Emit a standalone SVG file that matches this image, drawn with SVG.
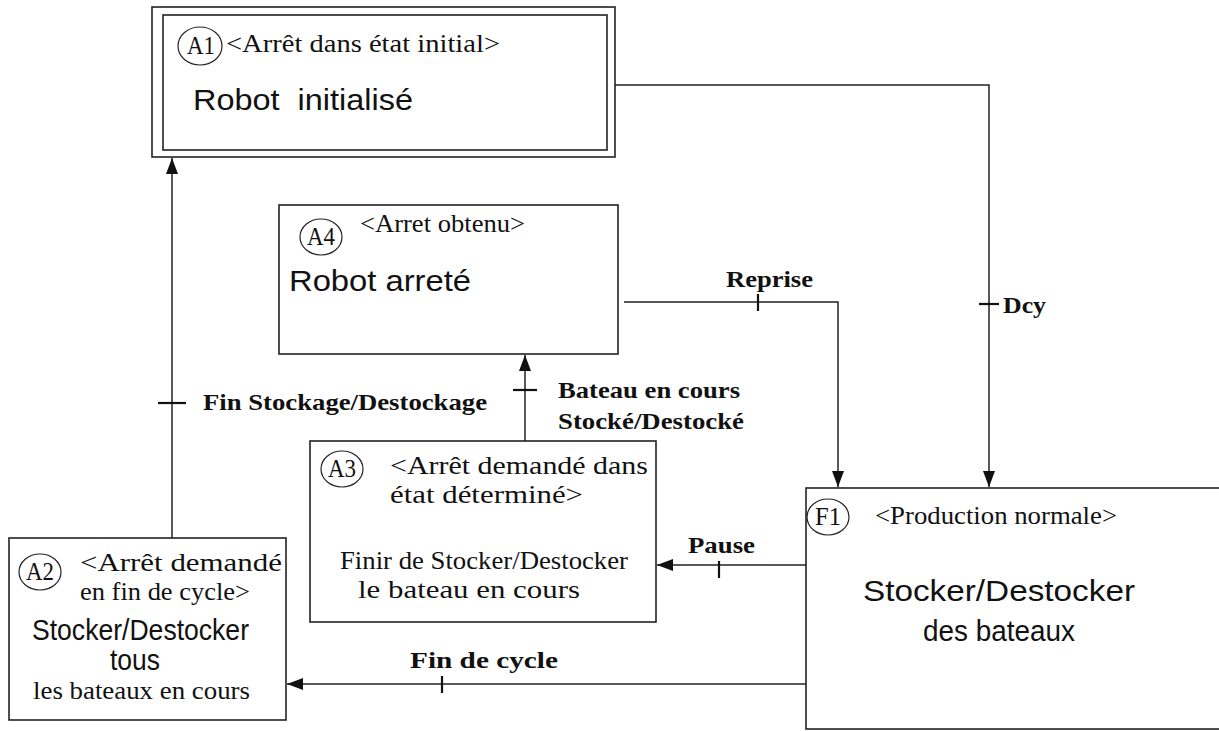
<svg xmlns="http://www.w3.org/2000/svg" width="1219" height="731" viewBox="0 0 1219 731">
  <style>
    .box { fill: #fff; stroke: #222; stroke-width: 1.6; }
    .tag { fill: none; stroke: #222; stroke-width: 1.2; }
    .wire { fill: none; stroke: #222; stroke-width: 1.5; }
    .tick { stroke: #111; stroke-width: 2.2; }
    .ser { font-family: "Liberation Serif", "Times New Roman", serif; font-size: 25px; fill: #111; }
    .sans { font-family: "Liberation Sans", Arial, sans-serif; font-size: 30px; fill: #111; }
    .lbl { font-family: "Liberation Serif", "Times New Roman", serif; font-weight: bold; font-size: 24px; fill: #111; }
  </style>
  <defs>
    <marker id="head" viewBox="0 0 16 12" refX="16" refY="6" markerWidth="16" markerHeight="12" markerUnits="userSpaceOnUse" orient="auto">
      <path d="M0,0 L16,6 L0,12 Z" fill="#111"/>
    </marker>
  </defs>

  <rect width="1219" height="731" fill="#fff"/>

  <!-- A1: initial stop -->
  <g id="A1">
    <rect class="box" x="152" y="7" width="463" height="150"/>
    <rect class="box" x="163" y="15" width="444" height="135"/>
    <ellipse class="tag" cx="200" cy="46" rx="22" ry="19"/>
    <text class="ser" x="201" y="54" font-size="23" text-anchor="middle" textLength="28" lengthAdjust="spacingAndGlyphs">A1</text>
    <text class="ser" x="226" y="52" textLength="274" lengthAdjust="spacingAndGlyphs">&lt;Arrêt dans état initial&gt;</text>
    <text class="sans" x="193" y="110" xml:space="preserve" textLength="220" lengthAdjust="spacingAndGlyphs">Robot  initialisé</text>
  </g>

  <!-- A4: stop reached -->
  <g id="A4">
    <rect class="box" x="279" y="205" width="339" height="149"/>
    <ellipse class="tag" cx="321" cy="237" rx="21" ry="18"/>
    <text class="ser" x="321" y="245" font-size="23" text-anchor="middle" textLength="28" lengthAdjust="spacingAndGlyphs">A4</text>
    <text class="ser" x="360" y="232" textLength="165" lengthAdjust="spacingAndGlyphs">&lt;Arret obtenu&gt;</text>
    <text class="sans" x="289" y="291" textLength="182" lengthAdjust="spacingAndGlyphs">Robot arreté</text>
  </g>

  <!-- A3: stop requested in a given state -->
  <g id="A3">
    <rect class="box" x="310" y="441" width="346" height="181"/>
    <ellipse class="tag" cx="342" cy="469" rx="21" ry="18"/>
    <text class="ser" x="342" y="477" font-size="23" text-anchor="middle" textLength="28" lengthAdjust="spacingAndGlyphs">A3</text>
    <text class="ser" x="390" y="474" textLength="258" lengthAdjust="spacingAndGlyphs">&lt;Arrêt demandé dans</text>
    <text class="ser" x="390" y="503" textLength="193" lengthAdjust="spacingAndGlyphs">état déterminé&gt;</text>
    <text class="ser" x="340" y="569" textLength="288" lengthAdjust="spacingAndGlyphs">Finir de Stocker/Destocker</text>
    <text class="ser" x="358" y="598" textLength="222" lengthAdjust="spacingAndGlyphs">le bateau en cours</text>
  </g>

  <!-- A2: stop requested at end of cycle -->
  <g id="A2">
    <rect class="box" x="9" y="538" width="277" height="182"/>
    <ellipse class="tag" cx="40" cy="572" rx="21" ry="18"/>
    <text class="ser" x="40" y="580" font-size="23" text-anchor="middle" textLength="28" lengthAdjust="spacingAndGlyphs">A2</text>
    <text class="ser" x="80" y="571" textLength="202" lengthAdjust="spacingAndGlyphs">&lt;Arrêt demandé</text>
    <text class="ser" x="80" y="600" textLength="170" lengthAdjust="spacingAndGlyphs">en fin de cycle&gt;</text>
    <text class="sans" x="32" y="640" font-size="22" textLength="217" lengthAdjust="spacingAndGlyphs">Stocker/Destocker</text>
    <text class="sans" x="110" y="670" font-size="22" textLength="50" lengthAdjust="spacingAndGlyphs">tous</text>
    <text class="ser" x="33" y="699" font-size="23" textLength="217" lengthAdjust="spacingAndGlyphs">les bateaux en cours</text>
  </g>

  <!-- F1: normal production -->
  <g id="F1">
    <rect class="box" x="806" y="488" width="420" height="241" stroke-width="2.6"/>
    <ellipse class="tag" cx="828" cy="517" rx="21" ry="18"/>
    <text class="ser" x="828" y="525" font-size="23" text-anchor="middle" textLength="26" lengthAdjust="spacingAndGlyphs">F1</text>
    <text class="ser" x="875" y="524" textLength="242" lengthAdjust="spacingAndGlyphs">&lt;Production normale&gt;</text>
    <text class="sans" x="863" y="601" textLength="272" lengthAdjust="spacingAndGlyphs">Stocker/Destocker</text>
    <text class="sans" x="923" y="641" textLength="152" lengthAdjust="spacingAndGlyphs">des bateaux</text>
  </g>

  <!-- transitions -->
  <g id="connectors">
    <!-- Dcy: A1 to F1 -->
    <path class="wire" d="M615,85 H989 V487" marker-end="url(#head)"/>
    <line class="tick" x1="979" y1="304" x2="999" y2="304"/>
    <text class="lbl" x="1003" y="313" textLength="43" lengthAdjust="spacingAndGlyphs">Dcy</text>

    <!-- Reprise: A4 to F1 -->
    <path class="wire" d="M624,302 H838 V487" marker-end="url(#head)"/>
    <line class="tick" x1="758" y1="294" x2="758" y2="311"/>
    <text class="lbl" x="726" y="287" textLength="87" lengthAdjust="spacingAndGlyphs">Reprise</text>

    <!-- A3 to A4 -->
    <path class="wire" d="M525,441 V355" marker-end="url(#head)"/>
    <line class="tick" x1="513" y1="390" x2="537" y2="390"/>
    <text class="lbl" x="558" y="398" textLength="182" lengthAdjust="spacingAndGlyphs">Bateau en cours</text>
    <text class="lbl" x="558" y="429" textLength="186" lengthAdjust="spacingAndGlyphs">Stocké/Destocké</text>

    <!-- A2 to A1 -->
    <path class="wire" d="M172,538 V158" marker-end="url(#head)"/>
    <line class="tick" x1="158" y1="403" x2="186" y2="403"/>
    <text class="lbl" x="203" y="410" textLength="284" lengthAdjust="spacingAndGlyphs">Fin Stockage/Destockage</text>

    <!-- Pause: F1 to A3 -->
    <path class="wire" d="M806,565 H657" marker-end="url(#head)"/>
    <line class="tick" x1="719" y1="561" x2="719" y2="578"/>
    <text class="lbl" x="688" y="553" textLength="67" lengthAdjust="spacingAndGlyphs">Pause</text>

    <!-- Fin de cycle: F1 to A2 -->
    <path class="wire" d="M806,684 H287" marker-end="url(#head)"/>
    <line class="tick" x1="442" y1="676" x2="442" y2="693"/>
    <text class="lbl" x="410" y="668" textLength="148" lengthAdjust="spacingAndGlyphs">Fin de cycle</text>
  </g>
</svg>
